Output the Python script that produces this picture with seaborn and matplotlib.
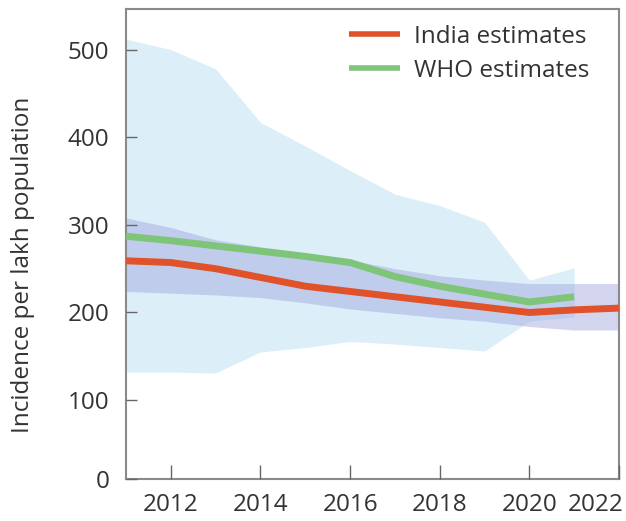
import numpy as np
import pandas as pd
import matplotlib
matplotlib.use("Agg")
import matplotlib.pyplot as plt
import matplotlib.transforms as mtransforms
import seaborn as sns

# -------------------------------------------------------------------------------------
# DATA
# -------------------------------------------------------------------------------------
INDIA_YEARS = [2011, 2012, 2013, 2014, 2015, 2016, 2017, 2018, 2019, 2020, 2021, 2022]
INDIA_EST = [259, 257, 250, 240, 230, 224, 218, 212, 206, 200, 203, 205]
INDIA_LO = [224, 222, 220, 217, 211, 204, 199, 194, 190, 184, 180, 180]
INDIA_HI = [308, 297, 283, 275, 268, 260, 250, 242, 237, 233, 233, 233]

WHO_YEARS = [2011, 2012, 2013, 2014, 2015, 2016, 2017, 2018, 2019, 2020, 2021]
WHO_EST = [287, 282, 276, 270, 264, 257, 241, 230, 221, 212, 218]
WHO_LO = [132, 132, 131, 155, 160, 167, 164, 160, 156, 190, 195]
WHO_HI = [512, 500, 478, 417, 390, 362, 335, 322, 303, 237, 251]

X_TICKS = [2012, 2014, 2016, 2018, 2020, 2022]
Y_TICKS = [10, 100, 200, 300, 400, 500]     # bottom of the axis carries the "0" label
Y_LABELS = ["0", "100", "200", "300", "400", "500"]

# -------------------------------------------------------------------------------------
# STYLE
# -------------------------------------------------------------------------------------
sns.set_theme(style="white")
plt.rcParams["font.family"] = ["Open Sans", "DejaVu Sans"]
FS = 17.5
TEXT = "#333333"
FRAME = "#8a8a8a"
RED = "#e0532a"
GREEN = "#7ec479"
LIGHT_BLUE = "#dceff9"
BAND = "#9fa3dc"

india = pd.DataFrame({"year": INDIA_YEARS, "value": INDIA_EST, "lo": INDIA_LO, "hi": INDIA_HI})
who = pd.DataFrame({"year": WHO_YEARS, "value": WHO_EST, "lo": WHO_LO, "hi": WHO_HI})

fig = plt.figure(figsize=(6.26, 5.21), dpi=100)
ax = fig.add_axes([0.2013, 0.0806, 0.7875, 0.9016])
ax.set_axisbelow(False)  # ticks sit on top of the shaded bands

# uncertainty bands
ax.fill_between(who["year"], who["lo"], who["hi"], color=LIGHT_BLUE, lw=0, zorder=1)
ax.fill_between(india["year"], india["lo"], india["hi"], color=BAND, alpha=0.45, lw=0, zorder=2)

# point estimates
sns.lineplot(data=india, x="year", y="value", color=RED, lw=5, ax=ax,
             label="India estimates", zorder=4, solid_capstyle="butt")
sns.lineplot(data=who, x="year", y="value", color=GREEN, lw=5, ax=ax,
             label="WHO estimates", zorder=3, solid_capstyle="butt")

ax.set_xlim(2011, 2022)
ax.set_ylim(10, 546)
ax.set_xticks(X_TICKS)
ax.set_yticks(Y_TICKS)
ax.set_yticklabels(Y_LABELS)
ax.set_xlabel("")
ax.set_ylabel("Incidence per lakh population", fontsize=FS, color=TEXT)
ax.yaxis.set_label_coords(-0.185, 0.455)

ax.tick_params(axis="both", direction="in", width=1, color="#666666",
               labelsize=FS, labelcolor=TEXT, bottom=True, left=True)
ax.tick_params(axis="x", length=10, pad=10)
ax.tick_params(axis="y", length=8, pad=12)

# last year label sits inside the right edge
last = ax.get_xticklabels()[-1]
last.set_horizontalalignment("right")
last.set_transform(last.get_transform() + mtransforms.ScaledTranslation(3 / 72, 0, fig.dpi_scale_trans))

for s in ax.spines.values():
    s.set_color(FRAME)
    s.set_linewidth(1.5)

leg = ax.legend(loc="upper right", bbox_to_anchor=(0.96, 0.988), frameon=False, fontsize=FS,
                handlelength=2.1, handletextpad=0.6, labelcolor=TEXT,
                borderaxespad=0.0, labelspacing=0.42)
for h in leg.get_lines():
    h.set_linewidth(4)

fig.savefig("out.png", dpi=100)
